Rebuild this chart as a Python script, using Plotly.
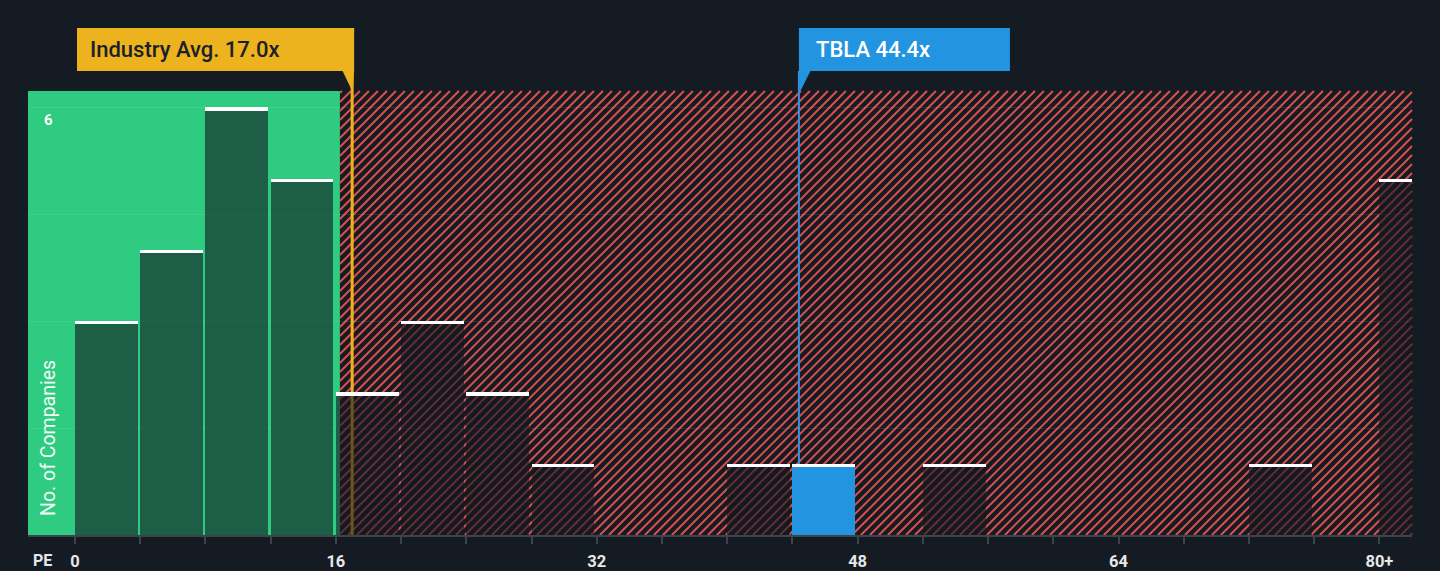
import plotly.graph_objects as go

# ---- data ----
bin_starts = [0, 4, 8, 12, 16, 20, 24, 28, 32, 36, 40, 44, 48, 52, 56, 60, 64, 68, 72, 76, 80]
counts = [3, 4, 6, 5, 2, 3, 2, 1, 0, 0, 1, 1, 0, 1, 0, 0, 0, 0, 1, 0, 5]
tick_vals = [0, 4, 8, 12, 16, 20, 24, 28, 32, 36, 40, 44, 48, 52, 56, 60, 64, 68, 72, 76, 80]
tick_text = ["0", "", "", "", "16", "", "", "", "32", "", "", "", "48", "", "", "", "64", "", "", "", "80+"]
industry_avg = 17.0
company = "TBLA"
company_pe = 44.4
fair_limit = 16.25

# ---- layout geometry ----
W, H = 1440, 571
ML, MR, MT, MB = 28, 28, 91, 36
XR = [-2.88, 82.0]
YR = [0, 6.23]
BG = "#151b23"
GREEN = "#2ecb80"
RED = "#d8504e"
ORANGE = "#ecb31e"
BLUE = "#2394df"

pw = W - ML - MR
ph = H - MT - MB


def px2paper_x(px):
    return (px - ML) / pw


def px2paper_y(py):
    return (H - MB - py) / ph


def data2px(x):
    return ML + (x - XR[0]) / (XR[1] - XR[0]) * pw


bw = 3.85
comp_bin = max(b for b in bin_starts if b <= company_pe)
bar_colors = [BLUE if b == comp_bin else "rgba(18,24,32,0.6)" for b in bin_starts]

fig = go.Figure()

# histogram bars
fig.add_trace(go.Bar(
    x=bin_starts, y=counts, width=bw, offset=0,
    marker=dict(color=bar_colors, line=dict(width=0)),
    showlegend=False,
))

# white caps on bars
cap = 0.045
cap_x = [b for b, c in zip(bin_starts, counts) if c > 0]
cap_base = [c - cap for c in counts if c > 0]
fig.add_trace(go.Bar(
    x=cap_x, y=[cap] * len(cap_x), base=cap_base, width=bw, offset=0,
    marker=dict(color="white", line=dict(width=0)),
    hoverinfo="skip", showlegend=False,
))

shapes = []
# green zone
shapes.append(dict(type="rect", xref="x", yref="paper", x0=XR[0], x1=fair_limit, y0=0, y1=1,
                   fillcolor=GREEN, line=dict(width=0), layer="below"))

# hatched zone (diagonal lines clipped to the rectangle)
hx0, hx1 = data2px(fair_limit), data2px(XR[1])
hy0, hy1 = MT, H - MB
step = 9
c = hx0 + hy0 + 2
while c < hx1 + hy1:
    # line px + py = c
    if c - hy1 >= hx0:
        sx, sy = c - hy1, hy1
    else:
        sx, sy = hx0, c - hx0
    if c - hy0 <= hx1:
        ex, ey = c - hy0, hy0
    else:
        ex, ey = hx1, c - hx1
    shapes.append(dict(type="line", xref="paper", yref="paper",
                       x0=px2paper_x(sx), y0=px2paper_y(sy), x1=px2paper_x(ex), y1=px2paper_y(ey),
                       line=dict(color=RED, width=2), layer="below"))
    c += step

# industry line
shapes.append(dict(type="line", xref="x", yref="paper", x0=industry_avg, x1=industry_avg,
                   y0=0, y1=px2paper_y(71), line=dict(color=ORANGE, width=3), layer="below"))
# company line
shapes.append(dict(type="line", xref="x", yref="paper", x0=company_pe, x1=company_pe,
                   y0=0, y1=px2paper_y(71), line=dict(color="#3b8fd9", width=2), layer="below"))

# label boxes
ix = data2px(industry_avg)
cx = data2px(company_pe)
o_x0, o_x1 = 77, ix + 2
b_x0, b_x1 = cx, cx + 211
yt, yb = 28, 71
shapes.append(dict(type="rect", xref="paper", yref="paper",
                   x0=px2paper_x(o_x0), x1=px2paper_x(o_x1), y0=px2paper_y(yb), y1=px2paper_y(yt),
                   fillcolor=ORANGE, line=dict(width=0)))
shapes.append(dict(type="path", xref="paper", yref="paper",
                   path="M{},{} L{},{} L{},{} Z".format(
                       px2paper_x(o_x1 - 12), px2paper_y(yb - 1),
                       px2paper_x(o_x1), px2paper_y(yb - 1),
                       px2paper_x(ix + 0.5), px2paper_y(92)),
                   fillcolor=ORANGE, line=dict(width=0)))
shapes.append(dict(type="rect", xref="paper", yref="paper",
                   x0=px2paper_x(b_x0), x1=px2paper_x(b_x1), y0=px2paper_y(yb), y1=px2paper_y(yt),
                   fillcolor=BLUE, line=dict(width=0)))
shapes.append(dict(type="path", xref="paper", yref="paper",
                   path="M{},{} L{},{} L{},{} Z".format(
                       px2paper_x(b_x0), px2paper_y(yb - 1),
                       px2paper_x(b_x0 + 12), px2paper_y(yb - 1),
                       px2paper_x(b_x0 + 1), px2paper_y(92)),
                   fillcolor=BLUE, line=dict(width=0)))

annotations = [
    dict(text="Industry Avg. {:.1f}x".format(industry_avg), xref="paper", yref="paper",
         x=px2paper_x(o_x0 + 11), y=px2paper_y((yt + yb) / 2), xanchor="left", yanchor="middle",
         showarrow=False, font=dict(family="Roboto", size=22, color="#1b2129", weight=500)),
    dict(text="{} {:.1f}x".format(company, company_pe), xref="paper", yref="paper",
         x=px2paper_x(b_x0 + 15), y=px2paper_y((yt + yb) / 2), xanchor="left", yanchor="middle",
         showarrow=False, font=dict(family="Roboto", size=22, color="white", weight=500)),
    dict(text="<b>6</b>", xref="paper", yref="y", x=px2paper_x(48), y=6, yshift=-13,
         xanchor="center", yanchor="middle", showarrow=False,
         font=dict(family="Roboto", size=15, color="white")),
    dict(text="No. of Companies", xref="paper", yref="paper", x=px2paper_x(48), y=px2paper_y(518),
         xanchor="center", yanchor="bottom", textangle=-90, showarrow=False,
         font=dict(family="Roboto", size=19.5, color="#f2fbf6")),
    dict(text="<b>PE</b>", xref="paper", yref="paper", x=px2paper_x(42), y=px2paper_y(560),
         xanchor="center", yanchor="middle", showarrow=False,
         font=dict(family="Roboto", size=16, color="#e8e8e8")),
]

fig.update_layout(
    width=W, height=H,
    margin=dict(l=ML, r=MR, t=MT, b=MB, pad=0, autoexpand=False),
    paper_bgcolor=BG, plot_bgcolor=BG,
    barmode="overlay", bargap=0,
    shapes=shapes, annotations=annotations,
    showlegend=False,
    font=dict(family="Roboto"),
)
fig.update_xaxes(
    range=XR, tickvals=tick_vals, ticktext=tick_text, automargin=False,
    ticks="outside", ticklen=7, tickwidth=2, tickcolor="#3e444c",
    showline=True, linecolor="#3e444c", linewidth=2,
    showgrid=False, zeroline=False, ticklabelstandoff=3,
    tickfont=dict(family="Roboto", size=16.5, color="#e8e8e8", weight="bold"),
)
fig.update_yaxes(
    range=YR, tickvals=[1.5, 3, 4.5, 6], showticklabels=False, automargin=False,
    showgrid=True, gridcolor="rgba(255,255,255,0.09)", gridwidth=1,
    zeroline=False, showline=False,
)

fig.write_html(
    "out.html",
    config={"displayModeBar": False},
    post_script="document.body.style.margin='0';document.body.style.background='#151b23';",
)
